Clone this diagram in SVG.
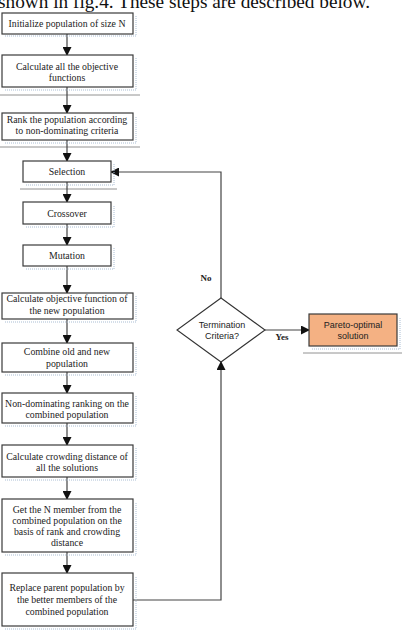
<svg xmlns="http://www.w3.org/2000/svg" width="404" height="630" viewBox="0 0 404 630">
<style>
.box{fill:#fff;stroke:#3a3a3a;stroke-width:1.2}
.sh{fill:none;stroke:#a9bdd3;stroke-width:1;stroke-dasharray:1,1}
.t{font-family:"Liberation Serif",serif;font-size:9.8px;fill:#222;text-anchor:middle}
.s{font-family:"Liberation Sans",sans-serif;font-size:9px;fill:#222;text-anchor:middle}
.b{font-family:"Liberation Serif",serif;font-size:9px;font-weight:bold;fill:#222;text-anchor:middle}
.c{fill:none;stroke:#444;stroke-width:1.2}
.g{stroke:#777;stroke-width:0.8}
</style>
<defs>
<marker id="ah" markerWidth="9" markerHeight="9" refX="8" refY="4.5" orient="auto" markerUnits="userSpaceOnUse">
<path d="M0,0 L9,4.5 L0,9 Z" fill="#111"/>
</marker>
</defs>
<text x="-2" y="8" font-family="Liberation Serif,serif" font-size="19" fill="#111" textLength="372" lengthAdjust="spacingAndGlyphs">shown in fig.4. These steps are described below.</text>
<g id="decor">
<line class="g" x1="0" y1="95" x2="140" y2="95"/>
<line class="g" x1="0" y1="147" x2="140" y2="147"/>
<line class="g" x1="20" y1="189" x2="117" y2="189"/>
<line class="g" x1="303" y1="353" x2="402" y2="353"/>
</g>
<g id="connectors">
<line class="c" x1="67" y1="34" x2="67" y2="55" marker-end="url(#ah)"/>
<line class="c" x1="67" y1="87" x2="67" y2="113" marker-end="url(#ah)"/>
<line class="c" x1="67" y1="140" x2="67" y2="161" marker-end="url(#ah)"/>
<line class="c" x1="67" y1="182" x2="67" y2="202" marker-end="url(#ah)"/>
<line class="c" x1="67" y1="224" x2="67" y2="245" marker-end="url(#ah)"/>
<line class="c" x1="67" y1="266" x2="67" y2="293" marker-end="url(#ah)"/>
<line class="c" x1="67" y1="319" x2="67" y2="343" marker-end="url(#ah)"/>
<line class="c" x1="67" y1="372" x2="67" y2="393" marker-end="url(#ah)"/>
<line class="c" x1="67" y1="423" x2="67" y2="445" marker-end="url(#ah)"/>
<line class="c" x1="67" y1="477" x2="67" y2="499" marker-end="url(#ah)"/>
<line class="c" x1="67" y1="552" x2="67" y2="573" marker-end="url(#ah)"/>
<polyline class="c" points="133,600 221,600 221,362" marker-end="url(#ah)"/>
<polyline class="c" points="221,298 221,172 111,172" marker-end="url(#ah)"/>
<line class="c" x1="265" y1="330" x2="309" y2="330" marker-end="url(#ah)"/>
<text class="b" x="206" y="281">No</text>
<text class="b" x="282" y="340">Yes</text>
</g>
<g id="n1"><polyline class="sh" points="5,36 136,36 136,16"/><rect class="box" x="2" y="13" width="131" height="21"/><text class="t" x="67" y="27">Initialize population of size N</text></g>
<g id="n2"><polyline class="sh" points="5,90 136,90 136,58"/><rect class="box" x="2" y="55" width="131" height="32"/><text class="t" x="67" y="70">Calculate all the objective</text><text class="t" x="67" y="81">functions</text></g>
<g id="n3"><polyline class="sh" points="5,143 136,143 136,116"/><rect class="box" x="2" y="113" width="131" height="27"/><text class="t" x="67" y="123">Rank the population according</text><text class="t" x="67" y="134">to non-dominating criteria</text></g>
<g id="n4"><polyline class="sh" points="26,185 114,185 114,164"/><rect class="box" x="23" y="161" width="88" height="21"/><text class="t" x="67" y="175">Selection</text></g>
<g id="n5"><polyline class="sh" points="26,227 114,227 114,205"/><rect class="box" x="23" y="202" width="88" height="22"/><text class="t" x="67" y="217">Crossover</text></g>
<g id="n6"><polyline class="sh" points="26,269 114,269 114,248"/><rect class="box" x="23" y="245" width="88" height="21"/><text class="t" x="67" y="259">Mutation</text></g>
<g id="n7"><polyline class="sh" points="5,322 136,322 136,296"/><rect class="box" x="2" y="293" width="131" height="26"/><text class="t" x="67" y="302">Calculate objective function of</text><text class="t" x="67" y="314">the new population</text></g>
<g id="n8"><polyline class="sh" points="5,375 136,375 136,346"/><rect class="box" x="2" y="343" width="131" height="29"/><text class="t" x="67" y="355">Combine old and new</text><text class="t" x="67" y="367">population</text></g>
<g id="n9"><polyline class="sh" points="5,426 136,426 136,396"/><rect class="box" x="2" y="393" width="131" height="30"/><text class="t" x="67" y="407">Non-dominating ranking on the</text><text class="t" x="67" y="418">combined population</text></g>
<g id="n10"><polyline class="sh" points="5,480 136,480 136,448"/><rect class="box" x="2" y="445" width="131" height="32"/><text class="t" x="67" y="460">Calculate crowding distance of</text><text class="t" x="67" y="471">all the solutions</text></g>
<g id="n11"><polyline class="sh" points="5,555 136,555 136,502"/><rect class="box" x="2" y="499" width="131" height="53"/><text class="t" x="67" y="513">Get the N member from the</text><text class="t" x="67" y="524">combined population on the</text><text class="t" x="67" y="535">basis of rank and crowding</text><text class="t" x="67" y="546">distance</text></g>
<g id="n12"><polyline class="sh" points="5,629 136,629 136,576"/><rect class="box" x="2" y="573" width="131" height="53"/><text class="t" x="67" y="591">Replace parent population by</text><text class="t" x="67" y="603">the better members of the</text><text class="t" x="67" y="615">combined population</text></g>
<g id="n13"><polygon points="221,298 265,330 221,362 177,330" fill="#fff" stroke="#333" stroke-width="1.1"/><text class="s" x="222" y="328">Termination</text><text class="s" x="222" y="339">Criteria?</text></g>
<g id="n14"><polyline class="sh" points="312,349 400,349 400,317"/><rect x="309" y="314" width="88" height="32" fill="#f4b183" stroke="#3a3a3a" stroke-width="1.2"/><text class="s" x="353" y="328">Pareto-optimal</text><text class="s" x="353" y="339">solution</text></g>
</svg>
